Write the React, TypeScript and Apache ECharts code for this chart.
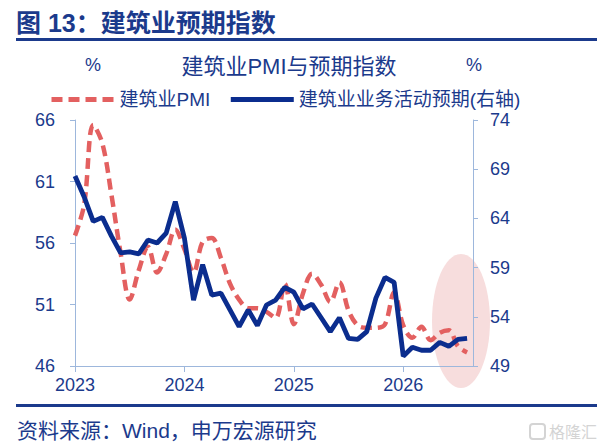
import React, { useEffect, useRef } from "react";
import * as echarts from "echarts";

const months = [
  "2023-01", "2023-02", "2023-03", "2023-04", "2023-05", "2023-06", "2023-07", "2023-08", "2023-09", "2023-10", "2023-11", "2023-12",
  "2024-01", "2024-02", "2024-03", "2024-04", "2024-05", "2024-06", "2024-07", "2024-08", "2024-09", "2024-10", "2024-11", "2024-12",
  "2025-01", "2025-02", "2025-03", "2025-04", "2025-05", "2025-06", "2025-07", "2025-08", "2025-09", "2025-10", "2025-11", "2025-12",
  "2026-01", "2026-02", "2026-03", "2026-04", "2026-05", "2026-06", "2026-07", "2026-08",
];

// 建筑业PMI (left axis, %)
const constructionPMI = [
  56.6, 59.1, 65.6, 64.1, 59.9, 55.2, 51.4, 53.8, 55.7, 53.6, 55.1, 57.1,
  55.5, 53.6, 56.1, 56.4, 54.8, 52.7, 51.4, 50.7, 50.7, 50.4, 49.9, 52.7,
  49.4, 51.9, 53.5, 52.6, 51.2, 52.8, 50.5, 49.3, 49.1, 49.1, 49.4, 52.0,
  49.3, 48.3, 49.2, 48.1, 48.7, 48.9, 47.6, 47.1,
];

// 建筑业业务活动预期 (right axis, %)
const businessExpectation = [
  68.3, 66.2, 63.7, 64.1, 62.2, 60.5, 60.6, 60.4, 61.8, 61.5, 62.5, 65.7,
  62.0, 55.7, 59.3, 56.2, 56.4, 54.7, 53.0, 54.7, 53.1, 55.2, 55.7, 57.0,
  56.5, 54.8, 55.3, 53.9, 52.5, 53.9, 51.8, 51.7, 52.5, 55.9, 58.0, 57.5,
  50.0, 50.9, 50.6, 50.6, 51.4, 51.0, 51.7, 51.8,
];

const leftTicks = [46, 51, 56, 61, 66];
const rightTicks = [49, 54, 59, 64, 69, 74];

const seriesNames = ["建筑业PMI", "建筑业业务活动预期(右轴)"];
const figureTitle = "图 13：建筑业预期指数";
const chartTitle = "建筑业PMI与预期指数";
const sourceText = "资料来源：Wind，申万宏源研究";

const NAVY = "#1b3a8c";
const LINE_BLUE = "#0b2d8e";
const RED = "#e36060";
const AXIS = "#9db7dc";
const FONT = "Liberation Sans, Arial, Noto Sans CJK SC, sans-serif";

export default function App() {
  const ref = useRef<HTMLDivElement>(null);

  useEffect(() => {
    document.body.style.margin = "0";
    const chart = echarts.init(ref.current!, null, { renderer: "svg" });
    const yearIdx = months
      .map((m, i) => (m.endsWith("-01") ? i : -1))
      .filter((i) => i >= 0);

    const option: any = {
      animation: false,
      grid: { left: 75, right: 132, top: 120, bottom: 80 },
      legend: {
        left: 44,
        top: 85,
        itemWidth: 63,
        itemHeight: 16,
        itemGap: 18,
        itemStyle: { opacity: 0 },
        lineStyle: { width: 5 },
        textStyle: { fontSize: 19, color: NAVY, fontFamily: FONT },
        data: seriesNames,
      },
      xAxis: {
        type: "value",
        min: 0,
        max: months.length - 1 + 0.65,
        interval: 12,
        splitLine: { show: false },
        axisLine: { lineStyle: { color: AXIS, width: 1 } },
        axisTick: { show: true, length: 6, lineStyle: { color: AXIS }, customValues: yearIdx },
        axisLabel: {
          customValues: yearIdx,
          margin: 10,
          fontSize: 18,
          color: NAVY,
          fontFamily: FONT,
          formatter: (v: number) => {
            const m = months[Math.round(v)];
            return Number.isInteger(v) && m && m.endsWith("-01") ? m.slice(0, 4) : "";
          },
        },
      },
      yAxis: [
        {
          type: "value",
          position: "left",
          min: leftTicks[0],
          max: leftTicks[leftTicks.length - 1],
          interval: leftTicks[1] - leftTicks[0],
          splitLine: { show: false },
          axisLine: { show: true, lineStyle: { color: AXIS, width: 1 } },
          axisTick: { show: true, length: 5, lineStyle: { color: AXIS } },
          axisLabel: { margin: 20, fontSize: 18, color: NAVY, fontFamily: FONT },
        },
        {
          type: "value",
          position: "right",
          min: rightTicks[0],
          max: rightTicks[rightTicks.length - 1],
          interval: rightTicks[1] - rightTicks[0],
          splitLine: { show: false },
          axisLine: { show: true, lineStyle: { color: AXIS, width: 1 } },
          axisTick: { show: true, length: 5, lineStyle: { color: AXIS } },
          axisLabel: { margin: 17, fontSize: 18, color: NAVY, fontFamily: FONT },
        },
      ],
      series: [
        {
          name: seriesNames[0],
          type: "line",
          yAxisIndex: 0,
          symbol: "none",
          smooth: 0.35,
          z: 3,
          lineStyle: { color: RED, width: 4.5, type: [11, 6] },
          itemStyle: { color: RED },
          data: constructionPMI.map((v, i) => [i, v]),
        },
        {
          name: seriesNames[1],
          type: "line",
          yAxisIndex: 1,
          symbol: "none",
          z: 4,
          lineStyle: { color: LINE_BLUE, width: 4.8 },
          itemStyle: { color: LINE_BLUE },
          data: businessExpectation.map((v, i) => [i, v]),
        },
      ],
      graphic: [
        {
          type: "ellipse",
          z: -1,
          shape: { cx: 461, cy: 321, rx: 29, ry: 67 },
          style: { fill: "#f7dddd" },
          silent: true,
        },
        {
          type: "text",
          x: 16,
          y: 23,
          style: {
            text: figureTitle,
            fill: NAVY,
            font: `bold 25px ${FONT}`,
            verticalAlign: "middle",
          },
        },
        { type: "rect", shape: { x: 16, y: 38, width: 581, height: 3 }, style: { fill: NAVY } },
        {
          type: "text",
          x: 289,
          y: 66,
          style: {
            text: chartTitle,
            fill: NAVY,
            font: `22px ${FONT}`,
            align: "center",
            verticalAlign: "middle",
          },
        },
        {
          type: "text",
          x: 93,
          y: 65,
          style: { text: "%", fill: NAVY, font: `18px ${FONT}`, align: "center", verticalAlign: "middle" },
        },
        {
          type: "text",
          x: 474,
          y: 65,
          style: { text: "%", fill: NAVY, font: `18px ${FONT}`, align: "center", verticalAlign: "middle" },
        },
        { type: "rect", shape: { x: 16, y: 404, width: 581, height: 3 }, style: { fill: NAVY } },
        {
          type: "text",
          x: 17,
          y: 430,
          style: { text: sourceText, fill: NAVY, font: `21px ${FONT}`, verticalAlign: "middle" },
        },
        {
          type: "rect",
          shape: { x: 530, y: 424, width: 15, height: 15, r: 3 },
          style: { fill: "none", stroke: "#d4d4d4", lineWidth: 2 },
        },
        {
          type: "text",
          x: 597,
          y: 432,
          style: { text: "格隆汇", fill: "#d4d4d4", font: `16px ${FONT}`, align: "right", verticalAlign: "middle" },
        },
      ],
    };
    chart.setOption(option);
    return () => chart.dispose();
  }, []);

  return <div ref={ref} style={{ position: "absolute", left: 0, top: 0, width: 605, height: 446 }} />;
}
